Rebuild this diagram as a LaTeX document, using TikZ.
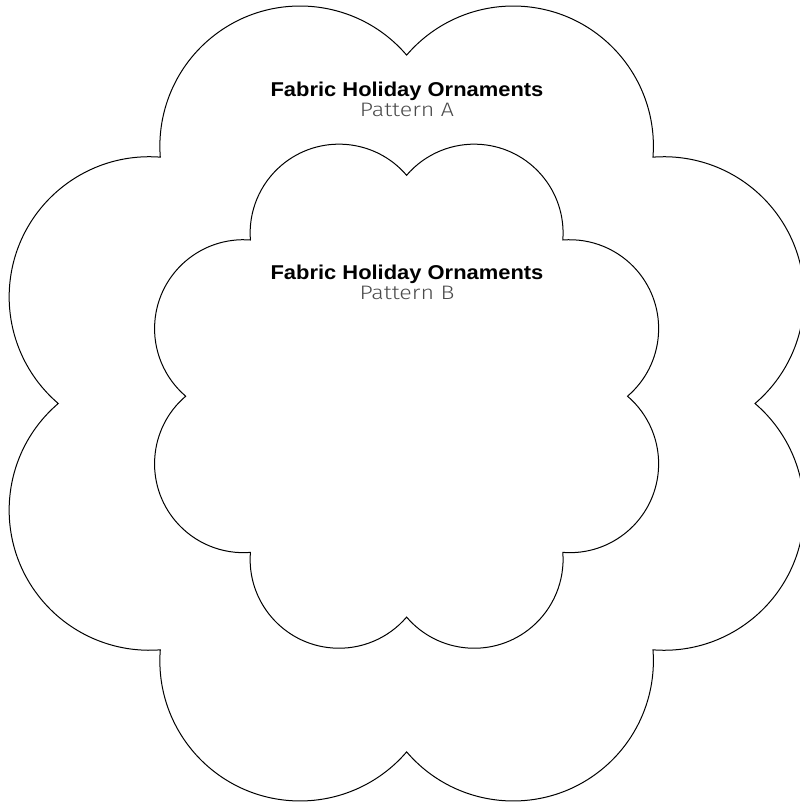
\documentclass[tikz,border=0pt]{standalone}
\usepackage{fontspec}
\setmainfont{Fira Sans}
\newfontfamily\titlefont{Liberation Sans}[FakeStretch=1.096]
\newfontfamily\lightfont{Fira Sans Light}[FakeStretch=1.19]
\definecolor{subgray}{HTML}{4A4A4A}
\tikzset{
  outline/.style={draw=black, line width=1pt, line join=miter},
  titletext/.style={anchor=base, inner sep=0pt, font=\titlefont\fontsize{20}{24}\selectfont\bfseries, text=black},
  subtext/.style={anchor=base, inner sep=0pt, font=\lightfont\fontsize{19.5}{24}\selectfont, text=subgray}
}
\begin{document}
\begin{tikzpicture}[x=1pt,y=1pt]
\useasboundingbox (0,0) rectangle (800,804);
% outer flower (8 lobes)
\draw[outline] (406.5+348.5,400.5)
  \foreach \k in {0,...,7}{ arc[start angle={-49.48+45*\k}, end angle={94.48+45*\k}, radius=140.2] } -- cycle;
% inner flower (8 lobes)
\draw[outline] (406.5+221,407.8)
  \foreach \k in {0,...,7}{ arc[start angle={-49.48+45*\k}, end angle={94.48+45*\k}, radius=88.9] } -- cycle;
\node[titletext] (titleA) at (407,707.3) {Fabric Holiday Ornaments};
\node[subtext] (patA) at (407,687.3) {Pattern A};
\node[titletext] (titleB) at (407,524) {Fabric Holiday Ornaments};
\node[subtext] (patB) at (407,504) {Pattern B};
\end{tikzpicture}
\end{document}
